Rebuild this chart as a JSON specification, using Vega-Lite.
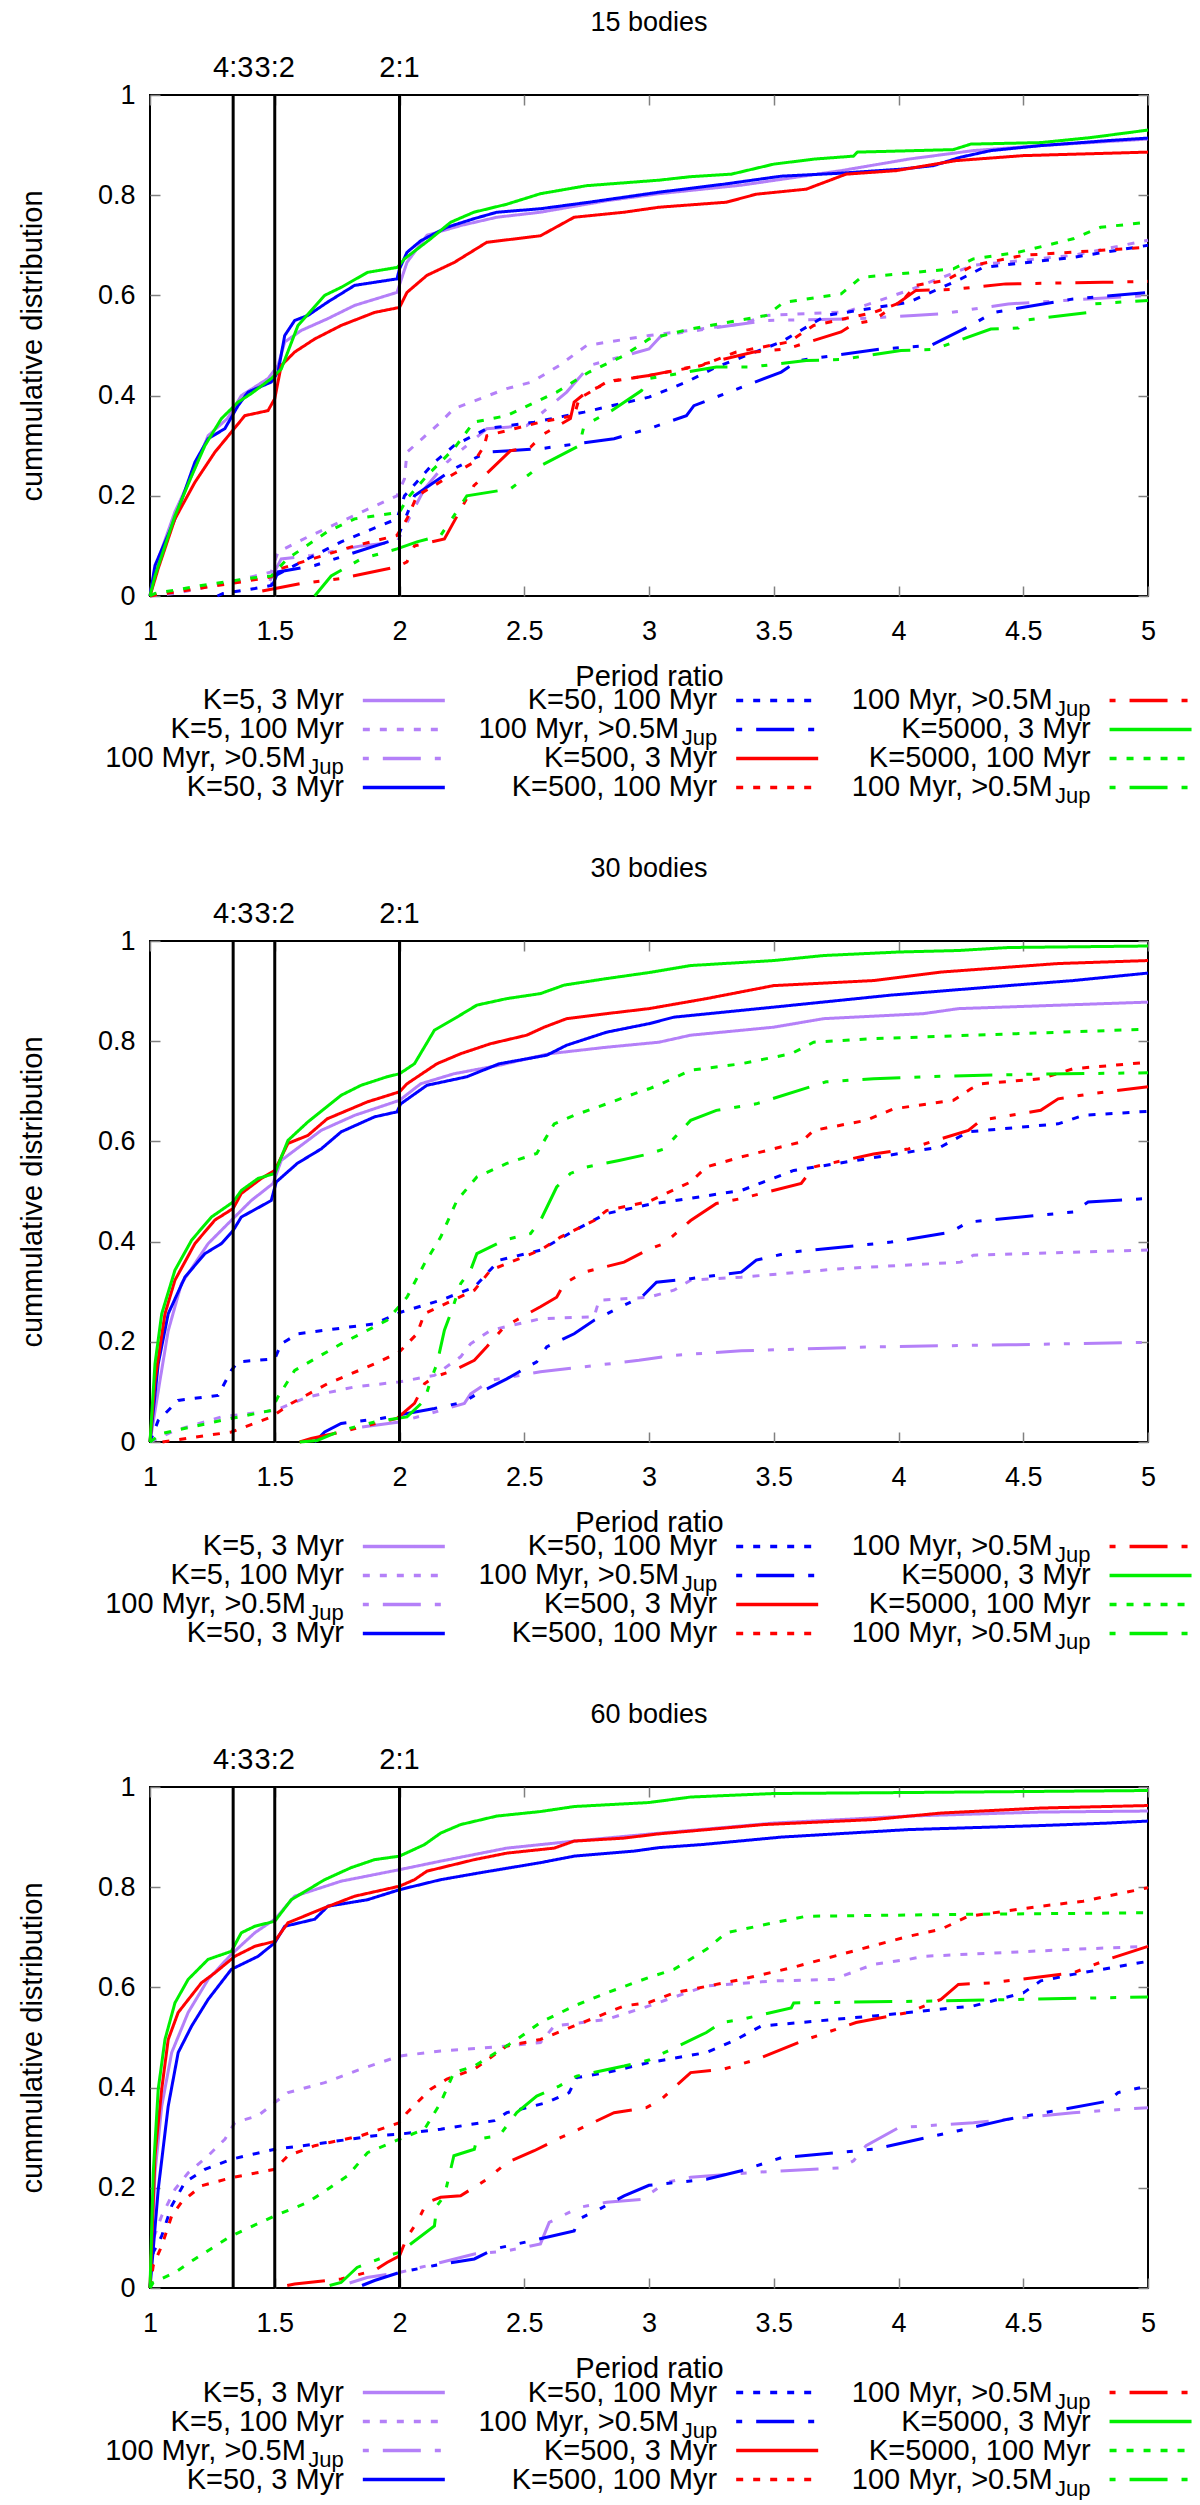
{
  "$schema": "https://vega.github.io/schema/vega-lite/v6.json",
  "padding": {"left": 17, "top": 8, "right": 5, "bottom": 0},
  "background": "white",
  "config": {
    "font": "Liberation Sans",
    "view": {"stroke": "black", "strokeWidth": 2},
    "axis": {
      "grid": false, "domain": false,
      "tickColor": "#808080", "tickWidth": 1.5, "tickSize": -10,
      "labelFont": "Liberation Sans", "labelFontSize": 27, "labelColor": "black",
      "titleFont": "Liberation Sans", "titleFontSize": 29, "titleFontWeight": "normal", "titleColor": "black"
    },
    "axisBottom": {"labelPadding": 32, "titlePadding": 18},
    "axisLeft": {"labelPadding": 25, "titlePadding": 50},
    "text": {"font": "Liberation Sans", "color": "black"}
  },
  "datasets": {
    "res": [
      {"ratio": 1.3333, "label": "4:3"},
      {"ratio": 1.5, "label": "3:2"},
      {"ratio": 2, "label": "2:1"}
    ],
    "leg": [
      {"series": "k5_3", "label": "K=5, 3 Myr", "sub": "", "col": 1, "row": 1},
      {"series": "k5_100", "label": "K=5, 100 Myr", "sub": "", "col": 1, "row": 2},
      {"series": "k5_jup", "label": "100 Myr, >0.5M", "sub": "Jup", "col": 1, "row": 3},
      {"series": "k50_3", "label": "K=50, 3 Myr", "sub": "", "col": 1, "row": 4},
      {"series": "k50_100", "label": "K=50, 100 Myr", "sub": "", "col": 2, "row": 1},
      {"series": "k50_jup", "label": "100 Myr, >0.5M", "sub": "Jup", "col": 2, "row": 2},
      {"series": "k500_3", "label": "K=500, 3 Myr", "sub": "", "col": 2, "row": 3},
      {"series": "k500_100", "label": "K=500, 100 Myr", "sub": "", "col": 2, "row": 4},
      {"series": "k500_jup", "label": "100 Myr, >0.5M", "sub": "Jup", "col": 3, "row": 1},
      {"series": "k5000_3", "label": "K=5000, 3 Myr", "sub": "", "col": 3, "row": 2},
      {"series": "k5000_100", "label": "K=5000, 100 Myr", "sub": "", "col": 3, "row": 3},
      {"series": "k5000_jup", "label": "100 Myr, >0.5M", "sub": "Jup", "col": 3, "row": 4}
    ],
    "p15": [
      {"series":"k5_3","ratio":1,"cdf":0},{"series":"k5_3","ratio":1.02,"cdf":0.055},{"series":"k5_3","ratio":1.1,"cdf":0.168},{"series":"k5_3","ratio":1.167,"cdf":0.24},{"series":"k5_3","ratio":1.233,"cdf":0.32},{"series":"k5_3","ratio":1.31,"cdf":0.354},{"series":"k5_3","ratio":1.366,"cdf":0.4},{"series":"k5_3","ratio":1.473,"cdf":0.434},{"series":"k5_3","ratio":1.513,"cdf":0.46},{"series":"k5_3","ratio":1.54,"cdf":0.507},{"series":"k5_3","ratio":1.606,"cdf":0.53},{"series":"k5_3","ratio":1.71,"cdf":0.553},{"series":"k5_3","ratio":1.82,"cdf":0.58},{"series":"k5_3","ratio":1.99,"cdf":0.606},{"series":"k5_3","ratio":2.03,"cdf":0.666},{"series":"k5_3","ratio":2.11,"cdf":0.72},{"series":"k5_3","ratio":2.25,"cdf":0.74},{"series":"k5_3","ratio":2.39,"cdf":0.756},{"series":"k5_3","ratio":2.565,"cdf":0.766},{"series":"k5_3","ratio":2.83,"cdf":0.789},{"series":"k5_3","ratio":3.04,"cdf":0.803},{"series":"k5_3","ratio":3.37,"cdf":0.82},{"series":"k5_3","ratio":3.77,"cdf":0.849},{"series":"k5_3","ratio":4.04,"cdf":0.872},{"series":"k5_3","ratio":4.3,"cdf":0.889},{"series":"k5_3","ratio":4.57,"cdf":0.899},{"series":"k5_3","ratio":5,"cdf":0.912},
      {"series":"k5_100","ratio":1,"cdf":0},{"series":"k5_100","ratio":1.1,"cdf":0.005},{"series":"k5_100","ratio":1.326,"cdf":0.028},{"series":"k5_100","ratio":1.486,"cdf":0.048},{"series":"k5_100","ratio":1.513,"cdf":0.088},{"series":"k5_100","ratio":1.633,"cdf":0.118},{"series":"k5_100","ratio":1.82,"cdf":0.161},{"series":"k5_100","ratio":1.99,"cdf":0.2},{"series":"k5_100","ratio":2.02,"cdf":0.234},{"series":"k5_100","ratio":2.03,"cdf":0.287},{"series":"k5_100","ratio":2.165,"cdf":0.347},{"series":"k5_100","ratio":2.218,"cdf":0.374},{"series":"k5_100","ratio":2.43,"cdf":0.414},{"series":"k5_100","ratio":2.53,"cdf":0.427},{"series":"k5_100","ratio":2.64,"cdf":0.46},{"series":"k5_100","ratio":2.75,"cdf":0.5},{"series":"k5_100","ratio":3,"cdf":0.52},{"series":"k5_100","ratio":3.37,"cdf":0.543},{"series":"k5_100","ratio":3.47,"cdf":0.56},{"series":"k5_100","ratio":3.79,"cdf":0.567},{"series":"k5_100","ratio":4.04,"cdf":0.61},{"series":"k5_100","ratio":4.3,"cdf":0.66},{"series":"k5_100","ratio":4.7,"cdf":0.68},{"series":"k5_100","ratio":5,"cdf":0.71},
      {"series":"k5_jup","ratio":1.48,"cdf":0.03},{"series":"k5_jup","ratio":1.526,"cdf":0.074},{"series":"k5_jup","ratio":1.646,"cdf":0.081},{"series":"k5_jup","ratio":1.846,"cdf":0.1},{"series":"k5_jup","ratio":1.99,"cdf":0.108},{"series":"k5_jup","ratio":2.1,"cdf":0.214},{"series":"k5_jup","ratio":2.19,"cdf":0.267},{"series":"k5_jup","ratio":2.35,"cdf":0.334},{"series":"k5_jup","ratio":2.51,"cdf":0.34},{"series":"k5_jup","ratio":2.67,"cdf":0.407},{"series":"k5_jup","ratio":2.74,"cdf":0.447},{"series":"k5_jup","ratio":2.76,"cdf":0.46},{"series":"k5_jup","ratio":3,"cdf":0.493},{"series":"k5_jup","ratio":3.05,"cdf":0.52},{"series":"k5_jup","ratio":3.47,"cdf":0.55},{"series":"k5_jup","ratio":3.82,"cdf":0.553},{"series":"k5_jup","ratio":4.06,"cdf":0.56},{"series":"k5_jup","ratio":4.17,"cdf":0.563},{"series":"k5_jup","ratio":4.44,"cdf":0.583},{"series":"k5_jup","ratio":5,"cdf":0.6},
      {"series":"k50_3","ratio":1,"cdf":0},{"series":"k50_3","ratio":1.02,"cdf":0.061},{"series":"k50_3","ratio":1.1,"cdf":0.154},{"series":"k50_3","ratio":1.18,"cdf":0.267},{"series":"k50_3","ratio":1.233,"cdf":0.314},{"series":"k50_3","ratio":1.3,"cdf":0.334},{"series":"k50_3","ratio":1.353,"cdf":0.38},{"series":"k50_3","ratio":1.393,"cdf":0.407},{"series":"k50_3","ratio":1.486,"cdf":0.427},{"series":"k50_3","ratio":1.513,"cdf":0.447},{"series":"k50_3","ratio":1.54,"cdf":0.52},{"series":"k50_3","ratio":1.58,"cdf":0.55},{"series":"k50_3","ratio":1.633,"cdf":0.56},{"series":"k50_3","ratio":1.71,"cdf":0.586},{"series":"k50_3","ratio":1.82,"cdf":0.62},{"series":"k50_3","ratio":1.99,"cdf":0.633},{"series":"k50_3","ratio":2,"cdf":0.653},{"series":"k50_3","ratio":2.03,"cdf":0.686},{"series":"k50_3","ratio":2.085,"cdf":0.709},{"series":"k50_3","ratio":2.19,"cdf":0.736},{"series":"k50_3","ratio":2.298,"cdf":0.753},{"series":"k50_3","ratio":2.39,"cdf":0.766},{"series":"k50_3","ratio":2.565,"cdf":0.773},{"series":"k50_3","ratio":2.76,"cdf":0.786},{"series":"k50_3","ratio":3.04,"cdf":0.806},{"series":"k50_3","ratio":3.3,"cdf":0.822},{"series":"k50_3","ratio":3.53,"cdf":0.838},{"series":"k50_3","ratio":3.77,"cdf":0.844},{"series":"k50_3","ratio":4.01,"cdf":0.852},{"series":"k50_3","ratio":4.14,"cdf":0.859},{"series":"k50_3","ratio":4.25,"cdf":0.876},{"series":"k50_3","ratio":4.37,"cdf":0.889},{"series":"k50_3","ratio":4.57,"cdf":0.899},{"series":"k50_3","ratio":4.84,"cdf":0.909},{"series":"k50_3","ratio":5,"cdf":0.914},
      {"series":"k50_100","ratio":1.27,"cdf":0},{"series":"k50_100","ratio":1.293,"cdf":0.005},{"series":"k50_100","ratio":1.42,"cdf":0.015},{"series":"k50_100","ratio":1.486,"cdf":0.021},{"series":"k50_100","ratio":1.5,"cdf":0.04},{"series":"k50_100","ratio":1.58,"cdf":0.061},{"series":"k50_100","ratio":1.766,"cdf":0.108},{"series":"k50_100","ratio":1.99,"cdf":0.154},{"series":"k50_100","ratio":2.02,"cdf":0.2},{"series":"k50_100","ratio":2.14,"cdf":0.267},{"series":"k50_100","ratio":2.218,"cdf":0.3},{"series":"k50_100","ratio":2.35,"cdf":0.334},{"series":"k50_100","ratio":2.54,"cdf":0.347},{"series":"k50_100","ratio":2.74,"cdf":0.367},{"series":"k50_100","ratio":3,"cdf":0.397},{"series":"k50_100","ratio":3.15,"cdf":0.427},{"series":"k50_100","ratio":3.27,"cdf":0.457},{"series":"k50_100","ratio":3.53,"cdf":0.507},{"series":"k50_100","ratio":3.71,"cdf":0.56},{"series":"k50_100","ratio":4.04,"cdf":0.586},{"series":"k50_100","ratio":4.25,"cdf":0.633},{"series":"k50_100","ratio":4.34,"cdf":0.656},{"series":"k50_100","ratio":4.7,"cdf":0.676},{"series":"k50_100","ratio":5,"cdf":0.7},
      {"series":"k50_jup","ratio":1.49,"cdf":0.02},{"series":"k50_jup","ratio":1.513,"cdf":0.048},{"series":"k50_jup","ratio":1.66,"cdf":0.061},{"series":"k50_jup","ratio":1.99,"cdf":0.114},{"series":"k50_jup","ratio":2.06,"cdf":0.2},{"series":"k50_jup","ratio":2.218,"cdf":0.254},{"series":"k50_jup","ratio":2.35,"cdf":0.287},{"series":"k50_jup","ratio":2.565,"cdf":0.294},{"series":"k50_jup","ratio":2.86,"cdf":0.314},{"series":"k50_jup","ratio":3,"cdf":0.334},{"series":"k50_jup","ratio":3.15,"cdf":0.36},{"series":"k50_jup","ratio":3.18,"cdf":0.38},{"series":"k50_jup","ratio":3.41,"cdf":0.424},{"series":"k50_jup","ratio":3.53,"cdf":0.447},{"series":"k50_jup","ratio":3.6,"cdf":0.47},{"series":"k50_jup","ratio":3.93,"cdf":0.493},{"series":"k50_jup","ratio":4.13,"cdf":0.5},{"series":"k50_jup","ratio":4.29,"cdf":0.54},{"series":"k50_jup","ratio":4.38,"cdf":0.566},{"series":"k50_jup","ratio":4.7,"cdf":0.593},{"series":"k50_jup","ratio":5,"cdf":0.606},
      {"series":"k500_3","ratio":1,"cdf":0},{"series":"k500_3","ratio":1.033,"cdf":0.055},{"series":"k500_3","ratio":1.1,"cdf":0.154},{"series":"k500_3","ratio":1.18,"cdf":0.227},{"series":"k500_3","ratio":1.26,"cdf":0.287},{"series":"k500_3","ratio":1.326,"cdf":0.327},{"series":"k500_3","ratio":1.38,"cdf":0.36},{"series":"k500_3","ratio":1.473,"cdf":0.37},{"series":"k500_3","ratio":1.5,"cdf":0.394},{"series":"k500_3","ratio":1.526,"cdf":0.46},{"series":"k500_3","ratio":1.58,"cdf":0.487},{"series":"k500_3","ratio":1.66,"cdf":0.513},{"series":"k500_3","ratio":1.766,"cdf":0.54},{"series":"k500_3","ratio":1.9,"cdf":0.566},{"series":"k500_3","ratio":2,"cdf":0.576},{"series":"k500_3","ratio":2.03,"cdf":0.606},{"series":"k500_3","ratio":2.11,"cdf":0.64},{"series":"k500_3","ratio":2.22,"cdf":0.666},{"series":"k500_3","ratio":2.35,"cdf":0.706},{"series":"k500_3","ratio":2.565,"cdf":0.719},{"series":"k500_3","ratio":2.7,"cdf":0.756},{"series":"k500_3","ratio":2.9,"cdf":0.766},{"series":"k500_3","ratio":3.04,"cdf":0.776},{"series":"k500_3","ratio":3.31,"cdf":0.786},{"series":"k500_3","ratio":3.43,"cdf":0.802},{"series":"k500_3","ratio":3.63,"cdf":0.812},{"series":"k500_3","ratio":3.79,"cdf":0.842},{"series":"k500_3","ratio":3.99,"cdf":0.849},{"series":"k500_3","ratio":4.23,"cdf":0.869},{"series":"k500_3","ratio":4.5,"cdf":0.879},{"series":"k500_3","ratio":5,"cdf":0.886},
      {"series":"k500_100","ratio":1,"cdf":0},{"series":"k500_100","ratio":1.1,"cdf":0.008},{"series":"k500_100","ratio":1.326,"cdf":0.025},{"series":"k500_100","ratio":1.486,"cdf":0.038},{"series":"k500_100","ratio":1.526,"cdf":0.055},{"series":"k500_100","ratio":1.82,"cdf":0.1},{"series":"k500_100","ratio":1.99,"cdf":0.121},{"series":"k500_100","ratio":2.03,"cdf":0.154},{"series":"k500_100","ratio":2.07,"cdf":0.2},{"series":"k500_100","ratio":2.205,"cdf":0.24},{"series":"k500_100","ratio":2.298,"cdf":0.267},{"series":"k500_100","ratio":2.34,"cdf":0.3},{"series":"k500_100","ratio":2.35,"cdf":0.32},{"series":"k500_100","ratio":2.565,"cdf":0.347},{"series":"k500_100","ratio":2.7,"cdf":0.36},{"series":"k500_100","ratio":2.72,"cdf":0.394},{"series":"k500_100","ratio":2.83,"cdf":0.427},{"series":"k500_100","ratio":3,"cdf":0.44},{"series":"k500_100","ratio":3.21,"cdf":0.46},{"series":"k500_100","ratio":3.35,"cdf":0.487},{"series":"k500_100","ratio":3.56,"cdf":0.507},{"series":"k500_100","ratio":3.66,"cdf":0.54},{"series":"k500_100","ratio":3.9,"cdf":0.566},{"series":"k500_100","ratio":4.01,"cdf":0.586},{"series":"k500_100","ratio":4.07,"cdf":0.62},{"series":"k500_100","ratio":4.19,"cdf":0.63},{"series":"k500_100","ratio":4.3,"cdf":0.66},{"series":"k500_100","ratio":4.5,"cdf":0.68},{"series":"k500_100","ratio":5,"cdf":0.696},
      {"series":"k500_jup","ratio":1.45,"cdf":0.01},{"series":"k500_jup","ratio":1.606,"cdf":0.025},{"series":"k500_jup","ratio":1.766,"cdf":0.035},{"series":"k500_jup","ratio":1.99,"cdf":0.058},{"series":"k500_jup","ratio":2.03,"cdf":0.068},{"series":"k500_jup","ratio":2.06,"cdf":0.1},{"series":"k500_jup","ratio":2.18,"cdf":0.114},{"series":"k500_jup","ratio":2.298,"cdf":0.22},{"series":"k500_jup","ratio":2.445,"cdf":0.29},{"series":"k500_jup","ratio":2.525,"cdf":0.297},{"series":"k500_jup","ratio":2.58,"cdf":0.324},{"series":"k500_jup","ratio":2.685,"cdf":0.354},{"series":"k500_jup","ratio":2.7,"cdf":0.387},{"series":"k500_jup","ratio":2.75,"cdf":0.407},{"series":"k500_jup","ratio":2.86,"cdf":0.43},{"series":"k500_jup","ratio":3,"cdf":0.44},{"series":"k500_jup","ratio":3.167,"cdf":0.457},{"series":"k500_jup","ratio":3.42,"cdf":0.487},{"series":"k500_jup","ratio":3.55,"cdf":0.493},{"series":"k500_jup","ratio":3.77,"cdf":0.527},{"series":"k500_jup","ratio":3.82,"cdf":0.543},{"series":"k500_jup","ratio":3.9,"cdf":0.55},{"series":"k500_jup","ratio":4.07,"cdf":0.61},{"series":"k500_jup","ratio":4.22,"cdf":0.612},{"series":"k500_jup","ratio":4.43,"cdf":0.623},{"series":"k500_jup","ratio":4.82,"cdf":0.626},{"series":"k500_jup","ratio":5,"cdf":0.628},
      {"series":"k5000_3","ratio":1,"cdf":0},{"series":"k5000_3","ratio":1.02,"cdf":0.04},{"series":"k5000_3","ratio":1.1,"cdf":0.16},{"series":"k5000_3","ratio":1.167,"cdf":0.24},{"series":"k5000_3","ratio":1.22,"cdf":0.3},{"series":"k5000_3","ratio":1.286,"cdf":0.354},{"series":"k5000_3","ratio":1.353,"cdf":0.387},{"series":"k5000_3","ratio":1.406,"cdf":0.404},{"series":"k5000_3","ratio":1.486,"cdf":0.434},{"series":"k5000_3","ratio":1.526,"cdf":0.453},{"series":"k5000_3","ratio":1.593,"cdf":0.54},{"series":"k5000_3","ratio":1.7,"cdf":0.6},{"series":"k5000_3","ratio":1.766,"cdf":0.616},{"series":"k5000_3","ratio":1.872,"cdf":0.646},{"series":"k5000_3","ratio":1.992,"cdf":0.656},{"series":"k5000_3","ratio":2.02,"cdf":0.673},{"series":"k5000_3","ratio":2.125,"cdf":0.713},{"series":"k5000_3","ratio":2.205,"cdf":0.746},{"series":"k5000_3","ratio":2.298,"cdf":0.766},{"series":"k5000_3","ratio":2.43,"cdf":0.782},{"series":"k5000_3","ratio":2.565,"cdf":0.803},{"series":"k5000_3","ratio":2.75,"cdf":0.819},{"series":"k5000_3","ratio":3.04,"cdf":0.83},{"series":"k5000_3","ratio":3.167,"cdf":0.837},{"series":"k5000_3","ratio":3.33,"cdf":0.842},{"series":"k5000_3","ratio":3.5,"cdf":0.862},{"series":"k5000_3","ratio":3.66,"cdf":0.872},{"series":"k5000_3","ratio":3.82,"cdf":0.878},{"series":"k5000_3","ratio":3.835,"cdf":0.886},{"series":"k5000_3","ratio":4.22,"cdf":0.891},{"series":"k5000_3","ratio":4.29,"cdf":0.902},{"series":"k5000_3","ratio":4.57,"cdf":0.905},{"series":"k5000_3","ratio":4.77,"cdf":0.915},{"series":"k5000_3","ratio":5,"cdf":0.93},
      {"series":"k5000_100","ratio":1,"cdf":0},{"series":"k5000_100","ratio":1.02,"cdf":0.005},{"series":"k5000_100","ratio":1.206,"cdf":0.021},{"series":"k5000_100","ratio":1.393,"cdf":0.035},{"series":"k5000_100","ratio":1.486,"cdf":0.04},{"series":"k5000_100","ratio":1.55,"cdf":0.074},{"series":"k5000_100","ratio":1.71,"cdf":0.128},{"series":"k5000_100","ratio":1.82,"cdf":0.154},{"series":"k5000_100","ratio":2,"cdf":0.167},{"series":"k5000_100","ratio":2.03,"cdf":0.194},{"series":"k5000_100","ratio":2.11,"cdf":0.24},{"series":"k5000_100","ratio":2.218,"cdf":0.294},{"series":"k5000_100","ratio":2.298,"cdf":0.347},{"series":"k5000_100","ratio":2.43,"cdf":0.36},{"series":"k5000_100","ratio":2.63,"cdf":0.407},{"series":"k5000_100","ratio":2.76,"cdf":0.447},{"series":"k5000_100","ratio":2.9,"cdf":0.48},{"series":"k5000_100","ratio":3,"cdf":0.513},{"series":"k5000_100","ratio":3.167,"cdf":0.533},{"series":"k5000_100","ratio":3.47,"cdf":0.56},{"series":"k5000_100","ratio":3.54,"cdf":0.586},{"series":"k5000_100","ratio":3.77,"cdf":0.603},{"series":"k5000_100","ratio":3.85,"cdf":0.636},{"series":"k5000_100","ratio":4.22,"cdf":0.653},{"series":"k5000_100","ratio":4.3,"cdf":0.673},{"series":"k5000_100","ratio":4.48,"cdf":0.686},{"series":"k5000_100","ratio":4.7,"cdf":0.713},{"series":"k5000_100","ratio":4.81,"cdf":0.736},{"series":"k5000_100","ratio":5,"cdf":0.746},
      {"series":"k5000_jup","ratio":1.66,"cdf":0},{"series":"k5000_jup","ratio":1.726,"cdf":0.04},{"series":"k5000_jup","ratio":1.846,"cdf":0.074},{"series":"k5000_jup","ratio":1.99,"cdf":0.094},{"series":"k5000_jup","ratio":2.07,"cdf":0.108},{"series":"k5000_jup","ratio":2.165,"cdf":0.121},{"series":"k5000_jup","ratio":2.218,"cdf":0.16},{"series":"k5000_jup","ratio":2.27,"cdf":0.2},{"series":"k5000_jup","ratio":2.445,"cdf":0.214},{"series":"k5000_jup","ratio":2.565,"cdf":0.26},{"series":"k5000_jup","ratio":2.72,"cdf":0.3},{"series":"k5000_jup","ratio":2.74,"cdf":0.34},{"series":"k5000_jup","ratio":2.85,"cdf":0.37},{"series":"k5000_jup","ratio":2.97,"cdf":0.41},{"series":"k5000_jup","ratio":3,"cdf":0.434},{"series":"k5000_jup","ratio":3.27,"cdf":0.457},{"series":"k5000_jup","ratio":3.41,"cdf":0.457},{"series":"k5000_jup","ratio":3.63,"cdf":0.47},{"series":"k5000_jup","ratio":3.77,"cdf":0.472},{"series":"k5000_jup","ratio":4.01,"cdf":0.49},{"series":"k5000_jup","ratio":4.14,"cdf":0.492},{"series":"k5000_jup","ratio":4.37,"cdf":0.533},{"series":"k5000_jup","ratio":4.48,"cdf":0.535},{"series":"k5000_jup","ratio":4.5,"cdf":0.55},{"series":"k5000_jup","ratio":4.76,"cdf":0.566},{"series":"k5000_jup","ratio":4.78,"cdf":0.583},{"series":"k5000_jup","ratio":5,"cdf":0.59}
    ],
    "p30": [
      {"series":"k5_3","ratio":1,"cdf":0},{"series":"k5_3","ratio":1.04,"cdf":0.123},{"series":"k5_3","ratio":1.073,"cdf":0.222},{"series":"k5_3","ratio":1.126,"cdf":0.316},{"series":"k5_3","ratio":1.233,"cdf":0.396},{"series":"k5_3","ratio":1.333,"cdf":0.446},{"series":"k5_3","ratio":1.406,"cdf":0.482},{"series":"k5_3","ratio":1.493,"cdf":0.516},{"series":"k5_3","ratio":1.526,"cdf":0.562},{"series":"k5_3","ratio":1.686,"cdf":0.622},{"series":"k5_3","ratio":1.82,"cdf":0.652},{"series":"k5_3","ratio":2,"cdf":0.682},{"series":"k5_3","ratio":2.085,"cdf":0.715},{"series":"k5_3","ratio":2.218,"cdf":0.735},{"series":"k5_3","ratio":2.4,"cdf":0.752},{"series":"k5_3","ratio":2.6,"cdf":0.775},{"series":"k5_3","ratio":2.83,"cdf":0.788},{"series":"k5_3","ratio":3.04,"cdf":0.798},{"series":"k5_3","ratio":3.167,"cdf":0.812},{"series":"k5_3","ratio":3.5,"cdf":0.828},{"series":"k5_3","ratio":3.7,"cdf":0.845},{"series":"k5_3","ratio":4.1,"cdf":0.855},{"series":"k5_3","ratio":4.24,"cdf":0.865},{"series":"k5_3","ratio":5,"cdf":0.878},
      {"series":"k5_100","ratio":1,"cdf":0},{"series":"k5_100","ratio":1.1,"cdf":0.023},{"series":"k5_100","ratio":1.286,"cdf":0.05},{"series":"k5_100","ratio":1.5,"cdf":0.063},{"series":"k5_100","ratio":1.633,"cdf":0.09},{"series":"k5_100","ratio":1.82,"cdf":0.11},{"series":"k5_100","ratio":2,"cdf":0.12},{"series":"k5_100","ratio":2.14,"cdf":0.133},{"series":"k5_100","ratio":2.245,"cdf":0.17},{"series":"k5_100","ratio":2.285,"cdf":0.196},{"series":"k5_100","ratio":2.365,"cdf":0.223},{"series":"k5_100","ratio":2.565,"cdf":0.246},{"series":"k5_100","ratio":2.78,"cdf":0.25},{"series":"k5_100","ratio":2.8,"cdf":0.283},{"series":"k5_100","ratio":3,"cdf":0.289},{"series":"k5_100","ratio":3.1,"cdf":0.303},{"series":"k5_100","ratio":3.167,"cdf":0.323},{"series":"k5_100","ratio":3.37,"cdf":0.329},{"series":"k5_100","ratio":3.77,"cdf":0.346},{"series":"k5_100","ratio":4.25,"cdf":0.359},{"series":"k5_100","ratio":4.3,"cdf":0.373},{"series":"k5_100","ratio":5,"cdf":0.383},
      {"series":"k5_jup","ratio":1.85,"cdf":0.03},{"series":"k5_jup","ratio":2,"cdf":0.04},{"series":"k5_jup","ratio":2.165,"cdf":0.063},{"series":"k5_jup","ratio":2.26,"cdf":0.077},{"series":"k5_jup","ratio":2.285,"cdf":0.096},{"series":"k5_jup","ratio":2.365,"cdf":0.123},{"series":"k5_jup","ratio":2.565,"cdf":0.14},{"series":"k5_jup","ratio":2.96,"cdf":0.163},{"series":"k5_jup","ratio":3.1,"cdf":0.173},{"series":"k5_jup","ratio":3.37,"cdf":0.182},{"series":"k5_jup","ratio":3.9,"cdf":0.19},{"series":"k5_jup","ratio":4.44,"cdf":0.194},{"series":"k5_jup","ratio":5,"cdf":0.199},
      {"series":"k50_3","ratio":1,"cdf":0},{"series":"k50_3","ratio":1.033,"cdf":0.156},{"series":"k50_3","ratio":1.073,"cdf":0.256},{"series":"k50_3","ratio":1.14,"cdf":0.329},{"series":"k50_3","ratio":1.22,"cdf":0.376},{"series":"k50_3","ratio":1.286,"cdf":0.396},{"series":"k50_3","ratio":1.333,"cdf":0.422},{"series":"k50_3","ratio":1.366,"cdf":0.449},{"series":"k50_3","ratio":1.486,"cdf":0.482},{"series":"k50_3","ratio":1.506,"cdf":0.519},{"series":"k50_3","ratio":1.59,"cdf":0.556},{"series":"k50_3","ratio":1.686,"cdf":0.585},{"series":"k50_3","ratio":1.766,"cdf":0.619},{"series":"k50_3","ratio":1.9,"cdf":0.649},{"series":"k50_3","ratio":1.99,"cdf":0.659},{"series":"k50_3","ratio":2.005,"cdf":0.675},{"series":"k50_3","ratio":2.11,"cdf":0.712},{"series":"k50_3","ratio":2.27,"cdf":0.729},{"series":"k50_3","ratio":2.4,"cdf":0.755},{"series":"k50_3","ratio":2.59,"cdf":0.772},{"series":"k50_3","ratio":2.67,"cdf":0.792},{"series":"k50_3","ratio":2.83,"cdf":0.818},{"series":"k50_3","ratio":3,"cdf":0.835},{"series":"k50_3","ratio":3.1,"cdf":0.848},{"series":"k50_3","ratio":3.5,"cdf":0.868},{"series":"k50_3","ratio":3.97,"cdf":0.892},{"series":"k50_3","ratio":4.44,"cdf":0.911},{"series":"k50_3","ratio":4.7,"cdf":0.921},{"series":"k50_3","ratio":5,"cdf":0.936},
      {"series":"k50_100","ratio":1,"cdf":0},{"series":"k50_100","ratio":1.033,"cdf":0.043},{"series":"k50_100","ratio":1.113,"cdf":0.083},{"series":"k50_100","ratio":1.273,"cdf":0.093},{"series":"k50_100","ratio":1.326,"cdf":0.143},{"series":"k50_100","ratio":1.353,"cdf":0.16},{"series":"k50_100","ratio":1.5,"cdf":0.166},{"series":"k50_100","ratio":1.526,"cdf":0.196},{"series":"k50_100","ratio":1.593,"cdf":0.216},{"series":"k50_100","ratio":1.9,"cdf":0.236},{"series":"k50_100","ratio":1.965,"cdf":0.25},{"series":"k50_100","ratio":2.005,"cdf":0.259},{"series":"k50_100","ratio":2.165,"cdf":0.283},{"series":"k50_100","ratio":2.3,"cdf":0.309},{"series":"k50_100","ratio":2.4,"cdf":0.363},{"series":"k50_100","ratio":2.565,"cdf":0.383},{"series":"k50_100","ratio":2.7,"cdf":0.422},{"series":"k50_100","ratio":2.83,"cdf":0.456},{"series":"k50_100","ratio":3,"cdf":0.474},{"series":"k50_100","ratio":3.37,"cdf":0.502},{"series":"k50_100","ratio":3.58,"cdf":0.542},{"series":"k50_100","ratio":3.83,"cdf":0.562},{"series":"k50_100","ratio":4.17,"cdf":0.589},{"series":"k50_100","ratio":4.28,"cdf":0.619},{"series":"k50_100","ratio":4.64,"cdf":0.635},{"series":"k50_100","ratio":4.74,"cdf":0.652},{"series":"k50_100","ratio":5,"cdf":0.66},
      {"series":"k50_jup","ratio":1.66,"cdf":0},{"series":"k50_jup","ratio":1.7,"cdf":0.02},{"series":"k50_jup","ratio":1.766,"cdf":0.037},{"series":"k50_jup","ratio":1.925,"cdf":0.047},{"series":"k50_jup","ratio":2.03,"cdf":0.057},{"series":"k50_jup","ratio":2.14,"cdf":0.067},{"series":"k50_jup","ratio":2.26,"cdf":0.08},{"series":"k50_jup","ratio":2.31,"cdf":0.096},{"series":"k50_jup","ratio":2.43,"cdf":0.126},{"series":"k50_jup","ratio":2.55,"cdf":0.16},{"series":"k50_jup","ratio":2.59,"cdf":0.19},{"series":"k50_jup","ratio":2.7,"cdf":0.216},{"series":"k50_jup","ratio":2.78,"cdf":0.243},{"series":"k50_jup","ratio":2.9,"cdf":0.273},{"series":"k50_jup","ratio":2.97,"cdf":0.289},{"series":"k50_jup","ratio":3.03,"cdf":0.319},{"series":"k50_jup","ratio":3.167,"cdf":0.326},{"series":"k50_jup","ratio":3.37,"cdf":0.339},{"series":"k50_jup","ratio":3.43,"cdf":0.363},{"series":"k50_jup","ratio":3.57,"cdf":0.379},{"series":"k50_jup","ratio":3.97,"cdf":0.399},{"series":"k50_jup","ratio":4.21,"cdf":0.419},{"series":"k50_jup","ratio":4.28,"cdf":0.439},{"series":"k50_jup","ratio":4.7,"cdf":0.459},{"series":"k50_jup","ratio":4.76,"cdf":0.479},{"series":"k50_jup","ratio":5,"cdf":0.486},
      {"series":"k500_3","ratio":1,"cdf":0},{"series":"k500_3","ratio":1.02,"cdf":0.123},{"series":"k500_3","ratio":1.06,"cdf":0.256},{"series":"k500_3","ratio":1.1,"cdf":0.323},{"series":"k500_3","ratio":1.18,"cdf":0.396},{"series":"k500_3","ratio":1.26,"cdf":0.443},{"series":"k500_3","ratio":1.333,"cdf":0.466},{"series":"k500_3","ratio":1.366,"cdf":0.496},{"series":"k500_3","ratio":1.446,"cdf":0.526},{"series":"k500_3","ratio":1.5,"cdf":0.542},{"series":"k500_3","ratio":1.553,"cdf":0.596},{"series":"k500_3","ratio":1.633,"cdf":0.612},{"series":"k500_3","ratio":1.71,"cdf":0.645},{"series":"k500_3","ratio":1.872,"cdf":0.679},{"series":"k500_3","ratio":2,"cdf":0.699},{"series":"k500_3","ratio":2.03,"cdf":0.715},{"series":"k500_3","ratio":2.15,"cdf":0.755},{"series":"k500_3","ratio":2.245,"cdf":0.775},{"series":"k500_3","ratio":2.365,"cdf":0.795},{"series":"k500_3","ratio":2.51,"cdf":0.812},{"series":"k500_3","ratio":2.58,"cdf":0.828},{"series":"k500_3","ratio":2.67,"cdf":0.845},{"series":"k500_3","ratio":2.83,"cdf":0.855},{"series":"k500_3","ratio":3,"cdf":0.865},{"series":"k500_3","ratio":3.23,"cdf":0.885},{"series":"k500_3","ratio":3.5,"cdf":0.911},{"series":"k500_3","ratio":3.9,"cdf":0.921},{"series":"k500_3","ratio":4.17,"cdf":0.938},{"series":"k500_3","ratio":4.64,"cdf":0.955},{"series":"k500_3","ratio":5,"cdf":0.961},
      {"series":"k500_100","ratio":1.05,"cdf":0},{"series":"k500_100","ratio":1.087,"cdf":0.003},{"series":"k500_100","ratio":1.326,"cdf":0.02},{"series":"k500_100","ratio":1.486,"cdf":0.05},{"series":"k500_100","ratio":1.566,"cdf":0.077},{"series":"k500_100","ratio":1.71,"cdf":0.116},{"series":"k500_100","ratio":1.9,"cdf":0.156},{"series":"k500_100","ratio":2,"cdf":0.18},{"series":"k500_100","ratio":2.07,"cdf":0.216},{"series":"k500_100","ratio":2.1,"cdf":0.256},{"series":"k500_100","ratio":2.3,"cdf":0.303},{"series":"k500_100","ratio":2.365,"cdf":0.343},{"series":"k500_100","ratio":2.565,"cdf":0.383},{"series":"k500_100","ratio":2.645,"cdf":0.409},{"series":"k500_100","ratio":2.78,"cdf":0.442},{"series":"k500_100","ratio":2.83,"cdf":0.462},{"series":"k500_100","ratio":3,"cdf":0.48},{"series":"k500_100","ratio":3.167,"cdf":0.519},{"series":"k500_100","ratio":3.23,"cdf":0.549},{"series":"k500_100","ratio":3.37,"cdf":0.569},{"series":"k500_100","ratio":3.61,"cdf":0.599},{"series":"k500_100","ratio":3.66,"cdf":0.622},{"series":"k500_100","ratio":3.87,"cdf":0.642},{"series":"k500_100","ratio":3.98,"cdf":0.665},{"series":"k500_100","ratio":4.22,"cdf":0.682},{"series":"k500_100","ratio":4.29,"cdf":0.705},{"series":"k500_100","ratio":4.33,"cdf":0.715},{"series":"k500_100","ratio":4.57,"cdf":0.725},{"series":"k500_100","ratio":4.7,"cdf":0.745},{"series":"k500_100","ratio":5,"cdf":0.758},
      {"series":"k500_jup","ratio":1.6,"cdf":0},{"series":"k500_jup","ratio":1.646,"cdf":0.007},{"series":"k500_jup","ratio":1.766,"cdf":0.02},{"series":"k500_jup","ratio":1.99,"cdf":0.047},{"series":"k500_jup","ratio":2.06,"cdf":0.077},{"series":"k500_jup","ratio":2.1,"cdf":0.116},{"series":"k500_jup","ratio":2.14,"cdf":0.13},{"series":"k500_jup","ratio":2.218,"cdf":0.143},{"series":"k500_jup","ratio":2.3,"cdf":0.163},{"series":"k500_jup","ratio":2.35,"cdf":0.19},{"series":"k500_jup","ratio":2.42,"cdf":0.23},{"series":"k500_jup","ratio":2.565,"cdf":0.27},{"series":"k500_jup","ratio":2.63,"cdf":0.289},{"series":"k500_jup","ratio":2.66,"cdf":0.316},{"series":"k500_jup","ratio":2.74,"cdf":0.339},{"series":"k500_jup","ratio":2.9,"cdf":0.359},{"series":"k500_jup","ratio":3,"cdf":0.385},{"series":"k500_jup","ratio":3.06,"cdf":0.396},{"series":"k500_jup","ratio":3.167,"cdf":0.442},{"series":"k500_jup","ratio":3.27,"cdf":0.476},{"series":"k500_jup","ratio":3.37,"cdf":0.486},{"series":"k500_jup","ratio":3.61,"cdf":0.516},{"series":"k500_jup","ratio":3.66,"cdf":0.549},{"series":"k500_jup","ratio":3.9,"cdf":0.575},{"series":"k500_jup","ratio":4.04,"cdf":0.585},{"series":"k500_jup","ratio":4.28,"cdf":0.622},{"series":"k500_jup","ratio":4.33,"cdf":0.642},{"series":"k500_jup","ratio":4.57,"cdf":0.662},{"series":"k500_jup","ratio":4.64,"cdf":0.685},{"series":"k500_jup","ratio":4.77,"cdf":0.695},{"series":"k500_jup","ratio":5,"cdf":0.709},
      {"series":"k5000_3","ratio":1,"cdf":0},{"series":"k5000_3","ratio":1.02,"cdf":0.156},{"series":"k5000_3","ratio":1.047,"cdf":0.256},{"series":"k5000_3","ratio":1.1,"cdf":0.343},{"series":"k5000_3","ratio":1.167,"cdf":0.403},{"series":"k5000_3","ratio":1.246,"cdf":0.449},{"series":"k5000_3","ratio":1.333,"cdf":0.479},{"series":"k5000_3","ratio":1.366,"cdf":0.502},{"series":"k5000_3","ratio":1.433,"cdf":0.526},{"series":"k5000_3","ratio":1.5,"cdf":0.536},{"series":"k5000_3","ratio":1.553,"cdf":0.602},{"series":"k5000_3","ratio":1.633,"cdf":0.639},{"series":"k5000_3","ratio":1.766,"cdf":0.692},{"series":"k5000_3","ratio":1.846,"cdf":0.712},{"series":"k5000_3","ratio":1.95,"cdf":0.729},{"series":"k5000_3","ratio":2,"cdf":0.735},{"series":"k5000_3","ratio":2.06,"cdf":0.755},{"series":"k5000_3","ratio":2.14,"cdf":0.822},{"series":"k5000_3","ratio":2.23,"cdf":0.848},{"series":"k5000_3","ratio":2.31,"cdf":0.872},{"series":"k5000_3","ratio":2.43,"cdf":0.885},{"series":"k5000_3","ratio":2.565,"cdf":0.895},{"series":"k5000_3","ratio":2.66,"cdf":0.912},{"series":"k5000_3","ratio":2.83,"cdf":0.925},{"series":"k5000_3","ratio":3,"cdf":0.937},{"series":"k5000_3","ratio":3.167,"cdf":0.951},{"series":"k5000_3","ratio":3.5,"cdf":0.961},{"series":"k5000_3","ratio":3.7,"cdf":0.971},{"series":"k5000_3","ratio":4,"cdf":0.978},{"series":"k5000_3","ratio":4.24,"cdf":0.981},{"series":"k5000_3","ratio":4.44,"cdf":0.987},{"series":"k5000_3","ratio":5,"cdf":0.99},
      {"series":"k5000_100","ratio":1,"cdf":0},{"series":"k5000_100","ratio":1.047,"cdf":0.017},{"series":"k5000_100","ratio":1.286,"cdf":0.043},{"series":"k5000_100","ratio":1.486,"cdf":0.063},{"series":"k5000_100","ratio":1.513,"cdf":0.09},{"series":"k5000_100","ratio":1.58,"cdf":0.143},{"series":"k5000_100","ratio":1.766,"cdf":0.196},{"series":"k5000_100","ratio":1.95,"cdf":0.243},{"series":"k5000_100","ratio":2.03,"cdf":0.289},{"series":"k5000_100","ratio":2.1,"cdf":0.356},{"series":"k5000_100","ratio":2.165,"cdf":0.409},{"series":"k5000_100","ratio":2.23,"cdf":0.482},{"series":"k5000_100","ratio":2.31,"cdf":0.529},{"series":"k5000_100","ratio":2.43,"cdf":0.556},{"series":"k5000_100","ratio":2.55,"cdf":0.576},{"series":"k5000_100","ratio":2.62,"cdf":0.635},{"series":"k5000_100","ratio":2.7,"cdf":0.652},{"series":"k5000_100","ratio":2.83,"cdf":0.675},{"series":"k5000_100","ratio":2.94,"cdf":0.695},{"series":"k5000_100","ratio":3,"cdf":0.705},{"series":"k5000_100","ratio":3.05,"cdf":0.715},{"series":"k5000_100","ratio":3.167,"cdf":0.742},{"series":"k5000_100","ratio":3.37,"cdf":0.755},{"series":"k5000_100","ratio":3.57,"cdf":0.775},{"series":"k5000_100","ratio":3.66,"cdf":0.798},{"series":"k5000_100","ratio":3.9,"cdf":0.805},{"series":"k5000_100","ratio":4.3,"cdf":0.812},{"series":"k5000_100","ratio":5,"cdf":0.824},
      {"series":"k5000_jup","ratio":1.6,"cdf":0},{"series":"k5000_jup","ratio":1.67,"cdf":0.003},{"series":"k5000_jup","ratio":1.766,"cdf":0.023},{"series":"k5000_jup","ratio":1.9,"cdf":0.04},{"series":"k5000_jup","ratio":2.03,"cdf":0.05},{"series":"k5000_jup","ratio":2.1,"cdf":0.083},{"series":"k5000_jup","ratio":2.125,"cdf":0.123},{"series":"k5000_jup","ratio":2.15,"cdf":0.156},{"series":"k5000_jup","ratio":2.18,"cdf":0.223},{"series":"k5000_jup","ratio":2.21,"cdf":0.263},{"series":"k5000_jup","ratio":2.245,"cdf":0.316},{"series":"k5000_jup","ratio":2.285,"cdf":0.343},{"series":"k5000_jup","ratio":2.31,"cdf":0.376},{"series":"k5000_jup","ratio":2.42,"cdf":0.403},{"series":"k5000_jup","ratio":2.525,"cdf":0.416},{"series":"k5000_jup","ratio":2.565,"cdf":0.442},{"series":"k5000_jup","ratio":2.63,"cdf":0.509},{"series":"k5000_jup","ratio":2.685,"cdf":0.536},{"series":"k5000_jup","ratio":2.75,"cdf":0.549},{"series":"k5000_jup","ratio":2.88,"cdf":0.562},{"series":"k5000_jup","ratio":3,"cdf":0.575},{"series":"k5000_jup","ratio":3.06,"cdf":0.585},{"series":"k5000_jup","ratio":3.167,"cdf":0.642},{"series":"k5000_jup","ratio":3.27,"cdf":0.662},{"series":"k5000_jup","ratio":3.43,"cdf":0.675},{"series":"k5000_jup","ratio":3.71,"cdf":0.719},{"series":"k5000_jup","ratio":3.9,"cdf":0.725},{"series":"k5000_jup","ratio":4.17,"cdf":0.73},{"series":"k5000_jup","ratio":4.52,"cdf":0.734},{"series":"k5000_jup","ratio":5,"cdf":0.737}
    ],
    "p60": [
      {"series":"k5_3","ratio":1,"cdf":0},{"series":"k5_3","ratio":1.02,"cdf":0.23},{"series":"k5_3","ratio":1.047,"cdf":0.363},{"series":"k5_3","ratio":1.087,"cdf":0.47},{"series":"k5_3","ratio":1.153,"cdf":0.55},{"series":"k5_3","ratio":1.233,"cdf":0.616},{"series":"k5_3","ratio":1.326,"cdf":0.666},{"series":"k5_3","ratio":1.42,"cdf":0.709},{"series":"k5_3","ratio":1.5,"cdf":0.736},{"series":"k5_3","ratio":1.58,"cdf":0.782},{"series":"k5_3","ratio":1.766,"cdf":0.812},{"series":"k5_3","ratio":2,"cdf":0.835},{"series":"k5_3","ratio":2.165,"cdf":0.852},{"series":"k5_3","ratio":2.43,"cdf":0.878},{"series":"k5_3","ratio":2.7,"cdf":0.892},{"series":"k5_3","ratio":3,"cdf":0.906},{"series":"k5_3","ratio":3.5,"cdf":0.928},{"series":"k5_3","ratio":4.04,"cdf":0.942},{"series":"k5_3","ratio":4.57,"cdf":0.95},{"series":"k5_3","ratio":5,"cdf":0.952},
      {"series":"k5_100","ratio":1,"cdf":0},{"series":"k5_100","ratio":1.013,"cdf":0.098},{"series":"k5_100","ratio":1.047,"cdf":0.144},{"series":"k5_100","ratio":1.1,"cdf":0.197},{"series":"k5_100","ratio":1.153,"cdf":0.23},{"series":"k5_100","ratio":1.233,"cdf":0.264},{"series":"k5_100","ratio":1.3,"cdf":0.297},{"series":"k5_100","ratio":1.34,"cdf":0.33},{"series":"k5_100","ratio":1.433,"cdf":0.344},{"series":"k5_100","ratio":1.5,"cdf":0.37},{"series":"k5_100","ratio":1.553,"cdf":0.39},{"series":"k5_100","ratio":1.7,"cdf":0.41},{"series":"k5_100","ratio":1.846,"cdf":0.437},{"series":"k5_100","ratio":2,"cdf":0.463},{"series":"k5_100","ratio":2.165,"cdf":0.473},{"series":"k5_100","ratio":2.43,"cdf":0.483},{"series":"k5_100","ratio":2.565,"cdf":0.49},{"series":"k5_100","ratio":2.62,"cdf":0.523},{"series":"k5_100","ratio":2.83,"cdf":0.536},{"series":"k5_100","ratio":3,"cdf":0.563},{"series":"k5_100","ratio":3.23,"cdf":0.603},{"series":"k5_100","ratio":3.5,"cdf":0.613},{"series":"k5_100","ratio":3.74,"cdf":0.616},{"series":"k5_100","ratio":3.9,"cdf":0.646},{"series":"k5_100","ratio":4.04,"cdf":0.656},{"series":"k5_100","ratio":4.1,"cdf":0.662},{"series":"k5_100","ratio":4.7,"cdf":0.676},{"series":"k5_100","ratio":5,"cdf":0.682},
      {"series":"k5_jup","ratio":1.8,"cdf":0.01},{"series":"k5_jup","ratio":1.87,"cdf":0.021},{"series":"k5_jup","ratio":2,"cdf":0.031},{"series":"k5_jup","ratio":2.165,"cdf":0.051},{"series":"k5_jup","ratio":2.3,"cdf":0.068},{"series":"k5_jup","ratio":2.43,"cdf":0.074},{"series":"k5_jup","ratio":2.565,"cdf":0.088},{"series":"k5_jup","ratio":2.6,"cdf":0.131},{"series":"k5_jup","ratio":2.72,"cdf":0.161},{"series":"k5_jup","ratio":2.83,"cdf":0.171},{"series":"k5_jup","ratio":2.97,"cdf":0.177},{"series":"k5_jup","ratio":3.07,"cdf":0.211},{"series":"k5_jup","ratio":3.167,"cdf":0.221},{"series":"k5_jup","ratio":3.43,"cdf":0.231},{"series":"k5_jup","ratio":3.77,"cdf":0.24},{"series":"k5_jup","ratio":3.82,"cdf":0.254},{"series":"k5_jup","ratio":3.87,"cdf":0.284},{"series":"k5_jup","ratio":4,"cdf":0.32},{"series":"k5_jup","ratio":4.3,"cdf":0.33},{"series":"k5_jup","ratio":4.44,"cdf":0.337},{"series":"k5_jup","ratio":4.7,"cdf":0.35},{"series":"k5_jup","ratio":5,"cdf":0.36},
      {"series":"k50_3","ratio":1,"cdf":0},{"series":"k50_3","ratio":1.033,"cdf":0.197},{"series":"k50_3","ratio":1.073,"cdf":0.363},{"series":"k50_3","ratio":1.113,"cdf":0.47},{"series":"k50_3","ratio":1.167,"cdf":0.523},{"series":"k50_3","ratio":1.233,"cdf":0.576},{"series":"k50_3","ratio":1.326,"cdf":0.636},{"series":"k50_3","ratio":1.433,"cdf":0.662},{"series":"k50_3","ratio":1.5,"cdf":0.689},{"series":"k50_3","ratio":1.54,"cdf":0.722},{"series":"k50_3","ratio":1.66,"cdf":0.736},{"series":"k50_3","ratio":1.713,"cdf":0.762},{"series":"k50_3","ratio":1.872,"cdf":0.775},{"series":"k50_3","ratio":2,"cdf":0.795},{"series":"k50_3","ratio":2.165,"cdf":0.815},{"series":"k50_3","ratio":2.325,"cdf":0.829},{"series":"k50_3","ratio":2.565,"cdf":0.849},{"series":"k50_3","ratio":2.7,"cdf":0.862},{"series":"k50_3","ratio":2.94,"cdf":0.872},{"series":"k50_3","ratio":3.04,"cdf":0.879},{"series":"k50_3","ratio":3.21,"cdf":0.885},{"series":"k50_3","ratio":3.53,"cdf":0.9},{"series":"k50_3","ratio":4.04,"cdf":0.915},{"series":"k50_3","ratio":4.57,"cdf":0.923},{"series":"k50_3","ratio":4.84,"cdf":0.928},{"series":"k50_3","ratio":5,"cdf":0.932},
      {"series":"k50_100","ratio":1,"cdf":0},{"series":"k50_100","ratio":1.013,"cdf":0.071},{"series":"k50_100","ratio":1.047,"cdf":0.104},{"series":"k50_100","ratio":1.087,"cdf":0.164},{"series":"k50_100","ratio":1.14,"cdf":0.211},{"series":"k50_100","ratio":1.22,"cdf":0.237},{"series":"k50_100","ratio":1.326,"cdf":0.257},{"series":"k50_100","ratio":1.5,"cdf":0.277},{"series":"k50_100","ratio":1.66,"cdf":0.287},{"series":"k50_100","ratio":1.9,"cdf":0.304},{"series":"k50_100","ratio":2,"cdf":0.307},{"series":"k50_100","ratio":2.165,"cdf":0.317},{"series":"k50_100","ratio":2.38,"cdf":0.334},{"series":"k50_100","ratio":2.43,"cdf":0.35},{"series":"k50_100","ratio":2.59,"cdf":0.37},{"series":"k50_100","ratio":2.68,"cdf":0.39},{"series":"k50_100","ratio":2.71,"cdf":0.42},{"series":"k50_100","ratio":2.83,"cdf":0.43},{"series":"k50_100","ratio":3,"cdf":0.45},{"series":"k50_100","ratio":3.23,"cdf":0.47},{"series":"k50_100","ratio":3.35,"cdf":0.496},{"series":"k50_100","ratio":3.45,"cdf":0.523},{"series":"k50_100","ratio":3.9,"cdf":0.543},{"series":"k50_100","ratio":4.3,"cdf":0.563},{"series":"k50_100","ratio":4.5,"cdf":0.589},{"series":"k50_100","ratio":4.57,"cdf":0.613},{"series":"k50_100","ratio":4.7,"cdf":0.626},{"series":"k50_100","ratio":5,"cdf":0.652},
      {"series":"k50_jup","ratio":1.85,"cdf":0.005},{"series":"k50_jup","ratio":1.9,"cdf":0.015},{"series":"k50_jup","ratio":2,"cdf":0.031},{"series":"k50_jup","ratio":2.14,"cdf":0.045},{"series":"k50_jup","ratio":2.3,"cdf":0.058},{"series":"k50_jup","ratio":2.38,"cdf":0.078},{"series":"k50_jup","ratio":2.5,"cdf":0.091},{"series":"k50_jup","ratio":2.7,"cdf":0.114},{"series":"k50_jup","ratio":2.72,"cdf":0.138},{"series":"k50_jup","ratio":2.8,"cdf":0.157},{"series":"k50_jup","ratio":2.9,"cdf":0.184},{"series":"k50_jup","ratio":3,"cdf":0.205},{"series":"k50_jup","ratio":3.23,"cdf":0.217},{"series":"k50_jup","ratio":3.37,"cdf":0.234},{"series":"k50_jup","ratio":3.53,"cdf":0.26},{"series":"k50_jup","ratio":3.9,"cdf":0.277},{"series":"k50_jup","ratio":4.24,"cdf":0.314},{"series":"k50_jup","ratio":4.44,"cdf":0.337},{"series":"k50_jup","ratio":4.84,"cdf":0.373},{"series":"k50_jup","ratio":4.88,"cdf":0.39},{"series":"k50_jup","ratio":4.97,"cdf":0.4},{"series":"k50_jup","ratio":5,"cdf":0.401},
      {"series":"k500_3","ratio":1,"cdf":0},{"series":"k500_3","ratio":1.02,"cdf":0.264},{"series":"k500_3","ratio":1.047,"cdf":0.397},{"series":"k500_3","ratio":1.073,"cdf":0.496},{"series":"k500_3","ratio":1.113,"cdf":0.55},{"series":"k500_3","ratio":1.206,"cdf":0.609},{"series":"k500_3","ratio":1.26,"cdf":0.629},{"series":"k500_3","ratio":1.34,"cdf":0.662},{"series":"k500_3","ratio":1.42,"cdf":0.682},{"series":"k500_3","ratio":1.5,"cdf":0.692},{"series":"k500_3","ratio":1.553,"cdf":0.729},{"series":"k500_3","ratio":1.7,"cdf":0.759},{"series":"k500_3","ratio":1.82,"cdf":0.782},{"series":"k500_3","ratio":2,"cdf":0.802},{"series":"k500_3","ratio":2.06,"cdf":0.815},{"series":"k500_3","ratio":2.11,"cdf":0.832},{"series":"k500_3","ratio":2.3,"cdf":0.855},{"series":"k500_3","ratio":2.43,"cdf":0.868},{"series":"k500_3","ratio":2.62,"cdf":0.878},{"series":"k500_3","ratio":2.7,"cdf":0.892},{"series":"k500_3","ratio":2.9,"cdf":0.898},{"series":"k500_3","ratio":3.03,"cdf":0.906},{"series":"k500_3","ratio":3.46,"cdf":0.925},{"series":"k500_3","ratio":3.9,"cdf":0.935},{"series":"k500_3","ratio":4.17,"cdf":0.948},{"series":"k500_3","ratio":4.57,"cdf":0.958},{"series":"k500_3","ratio":5,"cdf":0.963},
      {"series":"k500_100","ratio":1,"cdf":0},{"series":"k500_100","ratio":1.013,"cdf":0.045},{"series":"k500_100","ratio":1.047,"cdf":0.084},{"series":"k500_100","ratio":1.087,"cdf":0.144},{"series":"k500_100","ratio":1.126,"cdf":0.171},{"series":"k500_100","ratio":1.206,"cdf":0.204},{"series":"k500_100","ratio":1.326,"cdf":0.22},{"series":"k500_100","ratio":1.5,"cdf":0.237},{"series":"k500_100","ratio":1.553,"cdf":0.264},{"series":"k500_100","ratio":1.66,"cdf":0.284},{"series":"k500_100","ratio":1.846,"cdf":0.304},{"series":"k500_100","ratio":2,"cdf":0.33},{"series":"k500_100","ratio":2.03,"cdf":0.35},{"series":"k500_100","ratio":2.125,"cdf":0.397},{"series":"k500_100","ratio":2.19,"cdf":0.417},{"series":"k500_100","ratio":2.3,"cdf":0.437},{"series":"k500_100","ratio":2.43,"cdf":0.483},{"series":"k500_100","ratio":2.565,"cdf":0.496},{"series":"k500_100","ratio":2.7,"cdf":0.523},{"series":"k500_100","ratio":2.9,"cdf":0.563},{"series":"k500_100","ratio":3,"cdf":0.57},{"series":"k500_100","ratio":3.1,"cdf":0.589},{"series":"k500_100","ratio":3.37,"cdf":0.616},{"series":"k500_100","ratio":3.57,"cdf":0.639},{"series":"k500_100","ratio":3.77,"cdf":0.666},{"series":"k500_100","ratio":4.04,"cdf":0.702},{"series":"k500_100","ratio":4.17,"cdf":0.716},{"series":"k500_100","ratio":4.28,"cdf":0.742},{"series":"k500_100","ratio":4.57,"cdf":0.762},{"series":"k500_100","ratio":4.74,"cdf":0.772},{"series":"k500_100","ratio":5,"cdf":0.799},
      {"series":"k500_jup","ratio":1.55,"cdf":0.005},{"series":"k500_jup","ratio":1.58,"cdf":0.008},{"series":"k500_jup","ratio":1.766,"cdf":0.018},{"series":"k500_jup","ratio":1.9,"cdf":0.035},{"series":"k500_jup","ratio":1.95,"cdf":0.051},{"series":"k500_jup","ratio":2,"cdf":0.064},{"series":"k500_jup","ratio":2.03,"cdf":0.101},{"series":"k500_jup","ratio":2.07,"cdf":0.131},{"series":"k500_jup","ratio":2.11,"cdf":0.171},{"series":"k500_jup","ratio":2.165,"cdf":0.181},{"series":"k500_jup","ratio":2.245,"cdf":0.184},{"series":"k500_jup","ratio":2.35,"cdf":0.217},{"series":"k500_jup","ratio":2.43,"cdf":0.25},{"series":"k500_jup","ratio":2.54,"cdf":0.274},{"series":"k500_jup","ratio":2.645,"cdf":0.3},{"series":"k500_jup","ratio":2.72,"cdf":0.317},{"series":"k500_jup","ratio":2.86,"cdf":0.35},{"series":"k500_jup","ratio":2.99,"cdf":0.36},{"series":"k500_jup","ratio":3.05,"cdf":0.377},{"series":"k500_jup","ratio":3.167,"cdf":0.43},{"series":"k500_jup","ratio":3.3,"cdf":0.437},{"series":"k500_jup","ratio":3.43,"cdf":0.456},{"series":"k500_jup","ratio":3.63,"cdf":0.496},{"series":"k500_jup","ratio":3.83,"cdf":0.53},{"series":"k500_jup","ratio":4.04,"cdf":0.55},{"series":"k500_jup","ratio":4.17,"cdf":0.576},{"series":"k500_jup","ratio":4.24,"cdf":0.606},{"series":"k500_jup","ratio":4.37,"cdf":0.609},{"series":"k500_jup","ratio":4.7,"cdf":0.629},{"series":"k500_jup","ratio":4.84,"cdf":0.656},{"series":"k500_jup","ratio":5,"cdf":0.682},
      {"series":"k5000_3","ratio":1,"cdf":0},{"series":"k5000_3","ratio":1.013,"cdf":0.23},{"series":"k5000_3","ratio":1.033,"cdf":0.397},{"series":"k5000_3","ratio":1.06,"cdf":0.496},{"series":"k5000_3","ratio":1.1,"cdf":0.569},{"series":"k5000_3","ratio":1.153,"cdf":0.616},{"series":"k5000_3","ratio":1.233,"cdf":0.656},{"series":"k5000_3","ratio":1.326,"cdf":0.672},{"series":"k5000_3","ratio":1.366,"cdf":0.709},{"series":"k5000_3","ratio":1.42,"cdf":0.722},{"series":"k5000_3","ratio":1.5,"cdf":0.732},{"series":"k5000_3","ratio":1.566,"cdf":0.775},{"series":"k5000_3","ratio":1.7,"cdf":0.815},{"series":"k5000_3","ratio":1.806,"cdf":0.839},{"series":"k5000_3","ratio":1.9,"cdf":0.855},{"series":"k5000_3","ratio":2,"cdf":0.862},{"series":"k5000_3","ratio":2.1,"cdf":0.885},{"series":"k5000_3","ratio":2.165,"cdf":0.908},{"series":"k5000_3","ratio":2.245,"cdf":0.925},{"series":"k5000_3","ratio":2.39,"cdf":0.942},{"series":"k5000_3","ratio":2.565,"cdf":0.951},{"series":"k5000_3","ratio":2.7,"cdf":0.961},{"series":"k5000_3","ratio":3,"cdf":0.969},{"series":"k5000_3","ratio":3.167,"cdf":0.98},{"series":"k5000_3","ratio":3.5,"cdf":0.987},{"series":"k5000_3","ratio":4.04,"cdf":0.989},{"series":"k5000_3","ratio":5,"cdf":0.993},
      {"series":"k5000_100","ratio":1,"cdf":0},{"series":"k5000_100","ratio":1.013,"cdf":0.011},{"series":"k5000_100","ratio":1.1,"cdf":0.031},{"series":"k5000_100","ratio":1.18,"cdf":0.058},{"series":"k5000_100","ratio":1.326,"cdf":0.104},{"series":"k5000_100","ratio":1.5,"cdf":0.144},{"series":"k5000_100","ratio":1.633,"cdf":0.171},{"series":"k5000_100","ratio":1.792,"cdf":0.224},{"series":"k5000_100","ratio":1.872,"cdf":0.27},{"series":"k5000_100","ratio":2,"cdf":0.297},{"series":"k5000_100","ratio":2.1,"cdf":0.317},{"series":"k5000_100","ratio":2.165,"cdf":0.37},{"series":"k5000_100","ratio":2.218,"cdf":0.43},{"series":"k5000_100","ratio":2.3,"cdf":0.443},{"series":"k5000_100","ratio":2.47,"cdf":0.496},{"series":"k5000_100","ratio":2.565,"cdf":0.53},{"series":"k5000_100","ratio":2.7,"cdf":0.563},{"series":"k5000_100","ratio":2.83,"cdf":0.589},{"series":"k5000_100","ratio":3,"cdf":0.62},{"series":"k5000_100","ratio":3.1,"cdf":0.636},{"series":"k5000_100","ratio":3.23,"cdf":0.676},{"series":"k5000_100","ratio":3.31,"cdf":0.709},{"series":"k5000_100","ratio":3.5,"cdf":0.729},{"series":"k5000_100","ratio":3.63,"cdf":0.742},{"series":"k5000_100","ratio":4.3,"cdf":0.746},{"series":"k5000_100","ratio":5,"cdf":0.749},
      {"series":"k5000_jup","ratio":1.72,"cdf":0.005},{"series":"k5000_jup","ratio":1.766,"cdf":0.011},{"series":"k5000_jup","ratio":1.83,"cdf":0.041},{"series":"k5000_jup","ratio":1.95,"cdf":0.064},{"series":"k5000_jup","ratio":2,"cdf":0.071},{"series":"k5000_jup","ratio":2.14,"cdf":0.124},{"series":"k5000_jup","ratio":2.15,"cdf":0.164},{"series":"k5000_jup","ratio":2.18,"cdf":0.184},{"series":"k5000_jup","ratio":2.218,"cdf":0.264},{"series":"k5000_jup","ratio":2.3,"cdf":0.277},{"series":"k5000_jup","ratio":2.31,"cdf":0.297},{"series":"k5000_jup","ratio":2.4,"cdf":0.304},{"series":"k5000_jup","ratio":2.47,"cdf":0.35},{"series":"k5000_jup","ratio":2.55,"cdf":0.383},{"series":"k5000_jup","ratio":2.64,"cdf":0.403},{"series":"k5000_jup","ratio":2.71,"cdf":0.423},{"series":"k5000_jup","ratio":2.9,"cdf":0.443},{"series":"k5000_jup","ratio":3,"cdf":0.455},{"series":"k5000_jup","ratio":3.23,"cdf":0.51},{"series":"k5000_jup","ratio":3.29,"cdf":0.53},{"series":"k5000_jup","ratio":3.37,"cdf":0.536},{"series":"k5000_jup","ratio":3.57,"cdf":0.559},{"series":"k5000_jup","ratio":3.58,"cdf":0.569},{"series":"k5000_jup","ratio":4.17,"cdf":0.573},{"series":"k5000_jup","ratio":5,"cdf":0.581}
    ]
  },
  "spacing": 90,
  "bounds": "flush",
  "vconcat": [
    {
      "width": 998, "height": 501,
      "layer": [
        {"data": {"name": "p15"},
         "mark": {"type": "line", "strokeWidth": 3, "strokeCap": "butt"},
         "encoding": {
           "x": {"field": "ratio", "type": "quantitative", "scale": {"domain": [1, 5], "nice": false, "zero": false}, "axis": {"orient": "bottom", "values": [1, 1.5, 2, 2.5, 3, 3.5, 4, 4.5, 5], "format": "~g", "labelFlush": false, "title": "Period ratio"}},
           "y": {"field": "cdf", "type": "quantitative", "scale": {"domain": [0, 1], "nice": false}, "axis": {"orient": "left", "values": [0, 0.2, 0.4, 0.6, 0.8, 1], "format": "~g", "title": "cummulative distribution"}},
           "color": {"field": "series", "type": "nominal", "legend": null, "scale": {"domain": ["k5_3","k5_100","k5_jup","k50_3","k50_100","k50_jup","k500_3","k500_100","k500_jup","k5000_3","k5000_100","k5000_jup"], "range": ["#b480f8","#b480f8","#b480f8","#0000ff","#0000ff","#0000ff","#ff0000","#ff0000","#ff0000","#00f000","#00f000","#00f000"]}},
           "strokeDash": {"field": "series", "type": "nominal", "legend": null, "scale": {"domain": ["k5_3","k5_100","k5_jup","k50_3","k50_100","k50_jup","k500_3","k500_100","k500_jup","k5000_3","k5000_100","k5000_jup"], "range": [[1,0],[7,10],[38,14,6,14,6,14],[1,0],[7,10],[38,14,6,14,6,14],[1,0],[7,10],[38,14,6,14,6,14],[1,0],[7,10],[38,14,6,14,6,14]]}}
         }},
        {"data": {"name": "res"},
         "mark": {"type": "rule", "color": "black", "strokeWidth": 3},
         "encoding": {"x": {"field": "ratio", "type": "quantitative", "axis": {"orient": "top", "values": [1, 1.5, 2, 2.5, 3, 3.5, 4, 4.5, 5], "labels": false, "title": null}}}},
        {"data": {"name": "res"},
         "mark": {"type": "text", "baseline": "alphabetic", "dy": -18, "fontSize": 29},
         "encoding": {
           "x": {"field": "ratio", "type": "quantitative", "axis": null},
           "y": {"datum": 1, "type": "quantitative", "axis": {"orient": "right", "values": [0, 0.2, 0.4, 0.6, 0.8, 1], "labels": false, "title": null}},
           "text": {"field": "label"}
         }},
        {"data": {"values": [{"label": "15 bodies"}]},
         "mark": {"type": "text", "baseline": "middle", "dy": -72, "fontSize": 27},
         "encoding": {
           "x": {"datum": 3, "type": "quantitative", "axis": null},
           "y": {"datum": 1, "type": "quantitative", "axis": null},
           "text": {"field": "label"}
         }}
      ],
      "resolve": {"axis": {"x": "independent", "y": "independent"}}
    },
    {
      "width": 998, "height": 165, "view": {"stroke": null},
      "data": {"name": "leg"},
      "encoding": {
        "x": {"field": "col", "type": "quantitative", "scale": {"domain": [0.43, 3.103], "nice": false, "zero": false}, "axis": null},
        "y": {"field": "row", "type": "quantitative", "scale": {"domain": [0.5, 6.19], "nice": false, "zero": false, "reverse": true}, "axis": null}
      },
      "layer": [
        {"transform": [{"filter": "datum.sub == ''"}], "mark": {"type": "text", "align": "right", "baseline": "middle", "dx": -19, "fontSize": 29}, "encoding": {"text": {"field": "label"}}},
        {"transform": [{"filter": "datum.sub != ''"}], "mark": {"type": "text", "align": "right", "baseline": "middle", "dx": -57, "fontSize": 29}, "encoding": {"text": {"field": "label"}}},
        {"transform": [{"filter": "datum.sub != ''"}], "mark": {"type": "text", "align": "right", "baseline": "middle", "dx": -19, "dy": 9, "fontSize": 22}, "encoding": {"text": {"field": "sub"}}},
        {"transform": [{"filter": "datum.sub == ''"}], "mark": {"type": "rule", "strokeWidth": 3.5, "strokeCap": "butt", "x2Offset": 82},
         "encoding": {
           "x2": {"field": "col"},
           "color": {"field": "series", "type": "nominal", "legend": null, "scale": {"domain": ["k5_3","k5_100","k5_jup","k50_3","k50_100","k50_jup","k500_3","k500_100","k500_jup","k5000_3","k5000_100","k5000_jup"], "range": ["#b480f8","#b480f8","#b480f8","#0000ff","#0000ff","#0000ff","#ff0000","#ff0000","#ff0000","#00f000","#00f000","#00f000"]}},
           "strokeDash": {"field": "series", "type": "nominal", "legend": null, "scale": {"domain": ["k5_3","k5_100","k5_jup","k50_3","k50_100","k50_jup","k500_3","k500_100","k500_jup","k5000_3","k5000_100","k5000_jup"], "range": [[1,0],[7,10],[38,14,6,14,6,14],[1,0],[7,10],[38,14,6,14,6,14],[1,0],[7,10],[38,14,6,14,6,14],[1,0],[7,10],[38,14,6,14,6,14]]}}
         }},
        {"transform": [{"filter": "datum.sub != ''"}], "mark": {"type": "rule", "strokeWidth": 3.5, "strokeCap": "butt", "x2Offset": 82, "strokeDash": [38,14,6,14,6,14], "strokeDashOffset": 72},
         "encoding": {
           "x2": {"field": "col"},
           "color": {"field": "series", "type": "nominal", "legend": null, "scale": {"domain": ["k5_3","k5_100","k5_jup","k50_3","k50_100","k50_jup","k500_3","k500_100","k500_jup","k5000_3","k5000_100","k5000_jup"], "range": ["#b480f8","#b480f8","#b480f8","#0000ff","#0000ff","#0000ff","#ff0000","#ff0000","#ff0000","#00f000","#00f000","#00f000"]}}
         }}
      ]
    },
    {
      "width": 998, "height": 501,
      "layer": [
        {"data": {"name": "p30"},
         "mark": {"type": "line", "strokeWidth": 3, "strokeCap": "butt"},
         "encoding": {
           "x": {"field": "ratio", "type": "quantitative", "scale": {"domain": [1, 5], "nice": false, "zero": false}, "axis": {"orient": "bottom", "values": [1, 1.5, 2, 2.5, 3, 3.5, 4, 4.5, 5], "format": "~g", "labelFlush": false, "title": "Period ratio"}},
           "y": {"field": "cdf", "type": "quantitative", "scale": {"domain": [0, 1], "nice": false}, "axis": {"orient": "left", "values": [0, 0.2, 0.4, 0.6, 0.8, 1], "format": "~g", "title": "cummulative distribution"}},
           "color": {"field": "series", "type": "nominal", "legend": null, "scale": {"domain": ["k5_3","k5_100","k5_jup","k50_3","k50_100","k50_jup","k500_3","k500_100","k500_jup","k5000_3","k5000_100","k5000_jup"], "range": ["#b480f8","#b480f8","#b480f8","#0000ff","#0000ff","#0000ff","#ff0000","#ff0000","#ff0000","#00f000","#00f000","#00f000"]}},
           "strokeDash": {"field": "series", "type": "nominal", "legend": null, "scale": {"domain": ["k5_3","k5_100","k5_jup","k50_3","k50_100","k50_jup","k500_3","k500_100","k500_jup","k5000_3","k5000_100","k5000_jup"], "range": [[1,0],[7,10],[38,14,6,14,6,14],[1,0],[7,10],[38,14,6,14,6,14],[1,0],[7,10],[38,14,6,14,6,14],[1,0],[7,10],[38,14,6,14,6,14]]}}
         }},
        {"data": {"name": "res"},
         "mark": {"type": "rule", "color": "black", "strokeWidth": 3},
         "encoding": {"x": {"field": "ratio", "type": "quantitative", "axis": {"orient": "top", "values": [1, 1.5, 2, 2.5, 3, 3.5, 4, 4.5, 5], "labels": false, "title": null}}}},
        {"data": {"name": "res"},
         "mark": {"type": "text", "baseline": "alphabetic", "dy": -18, "fontSize": 29},
         "encoding": {
           "x": {"field": "ratio", "type": "quantitative", "axis": null},
           "y": {"datum": 1, "type": "quantitative", "axis": {"orient": "right", "values": [0, 0.2, 0.4, 0.6, 0.8, 1], "labels": false, "title": null}},
           "text": {"field": "label"}
         }},
        {"data": {"values": [{"label": "30 bodies"}]},
         "mark": {"type": "text", "baseline": "middle", "dy": -72, "fontSize": 27},
         "encoding": {
           "x": {"datum": 3, "type": "quantitative", "axis": null},
           "y": {"datum": 1, "type": "quantitative", "axis": null},
           "text": {"field": "label"}
         }}
      ],
      "resolve": {"axis": {"x": "independent", "y": "independent"}}
    },
    {
      "width": 998, "height": 165, "view": {"stroke": null},
      "data": {"name": "leg"},
      "encoding": {
        "x": {"field": "col", "type": "quantitative", "scale": {"domain": [0.43, 3.103], "nice": false, "zero": false}, "axis": null},
        "y": {"field": "row", "type": "quantitative", "scale": {"domain": [0.5, 6.19], "nice": false, "zero": false, "reverse": true}, "axis": null}
      },
      "layer": [
        {"transform": [{"filter": "datum.sub == ''"}], "mark": {"type": "text", "align": "right", "baseline": "middle", "dx": -19, "fontSize": 29}, "encoding": {"text": {"field": "label"}}},
        {"transform": [{"filter": "datum.sub != ''"}], "mark": {"type": "text", "align": "right", "baseline": "middle", "dx": -57, "fontSize": 29}, "encoding": {"text": {"field": "label"}}},
        {"transform": [{"filter": "datum.sub != ''"}], "mark": {"type": "text", "align": "right", "baseline": "middle", "dx": -19, "dy": 9, "fontSize": 22}, "encoding": {"text": {"field": "sub"}}},
        {"transform": [{"filter": "datum.sub == ''"}], "mark": {"type": "rule", "strokeWidth": 3.5, "strokeCap": "butt", "x2Offset": 82},
         "encoding": {
           "x2": {"field": "col"},
           "color": {"field": "series", "type": "nominal", "legend": null, "scale": {"domain": ["k5_3","k5_100","k5_jup","k50_3","k50_100","k50_jup","k500_3","k500_100","k500_jup","k5000_3","k5000_100","k5000_jup"], "range": ["#b480f8","#b480f8","#b480f8","#0000ff","#0000ff","#0000ff","#ff0000","#ff0000","#ff0000","#00f000","#00f000","#00f000"]}},
           "strokeDash": {"field": "series", "type": "nominal", "legend": null, "scale": {"domain": ["k5_3","k5_100","k5_jup","k50_3","k50_100","k50_jup","k500_3","k500_100","k500_jup","k5000_3","k5000_100","k5000_jup"], "range": [[1,0],[7,10],[38,14,6,14,6,14],[1,0],[7,10],[38,14,6,14,6,14],[1,0],[7,10],[38,14,6,14,6,14],[1,0],[7,10],[38,14,6,14,6,14]]}}
         }},
        {"transform": [{"filter": "datum.sub != ''"}], "mark": {"type": "rule", "strokeWidth": 3.5, "strokeCap": "butt", "x2Offset": 82, "strokeDash": [38,14,6,14,6,14], "strokeDashOffset": 72},
         "encoding": {
           "x2": {"field": "col"},
           "color": {"field": "series", "type": "nominal", "legend": null, "scale": {"domain": ["k5_3","k5_100","k5_jup","k50_3","k50_100","k50_jup","k500_3","k500_100","k500_jup","k5000_3","k5000_100","k5000_jup"], "range": ["#b480f8","#b480f8","#b480f8","#0000ff","#0000ff","#0000ff","#ff0000","#ff0000","#ff0000","#00f000","#00f000","#00f000"]}}
         }}
      ]
    },
    {
      "width": 998, "height": 501,
      "layer": [
        {"data": {"name": "p60"},
         "mark": {"type": "line", "strokeWidth": 3, "strokeCap": "butt"},
         "encoding": {
           "x": {"field": "ratio", "type": "quantitative", "scale": {"domain": [1, 5], "nice": false, "zero": false}, "axis": {"orient": "bottom", "values": [1, 1.5, 2, 2.5, 3, 3.5, 4, 4.5, 5], "format": "~g", "labelFlush": false, "title": "Period ratio"}},
           "y": {"field": "cdf", "type": "quantitative", "scale": {"domain": [0, 1], "nice": false}, "axis": {"orient": "left", "values": [0, 0.2, 0.4, 0.6, 0.8, 1], "format": "~g", "title": "cummulative distribution"}},
           "color": {"field": "series", "type": "nominal", "legend": null, "scale": {"domain": ["k5_3","k5_100","k5_jup","k50_3","k50_100","k50_jup","k500_3","k500_100","k500_jup","k5000_3","k5000_100","k5000_jup"], "range": ["#b480f8","#b480f8","#b480f8","#0000ff","#0000ff","#0000ff","#ff0000","#ff0000","#ff0000","#00f000","#00f000","#00f000"]}},
           "strokeDash": {"field": "series", "type": "nominal", "legend": null, "scale": {"domain": ["k5_3","k5_100","k5_jup","k50_3","k50_100","k50_jup","k500_3","k500_100","k500_jup","k5000_3","k5000_100","k5000_jup"], "range": [[1,0],[7,10],[38,14,6,14,6,14],[1,0],[7,10],[38,14,6,14,6,14],[1,0],[7,10],[38,14,6,14,6,14],[1,0],[7,10],[38,14,6,14,6,14]]}}
         }},
        {"data": {"name": "res"},
         "mark": {"type": "rule", "color": "black", "strokeWidth": 3},
         "encoding": {"x": {"field": "ratio", "type": "quantitative", "axis": {"orient": "top", "values": [1, 1.5, 2, 2.5, 3, 3.5, 4, 4.5, 5], "labels": false, "title": null}}}},
        {"data": {"name": "res"},
         "mark": {"type": "text", "baseline": "alphabetic", "dy": -18, "fontSize": 29},
         "encoding": {
           "x": {"field": "ratio", "type": "quantitative", "axis": null},
           "y": {"datum": 1, "type": "quantitative", "axis": {"orient": "right", "values": [0, 0.2, 0.4, 0.6, 0.8, 1], "labels": false, "title": null}},
           "text": {"field": "label"}
         }},
        {"data": {"values": [{"label": "60 bodies"}]},
         "mark": {"type": "text", "baseline": "middle", "dy": -72, "fontSize": 27},
         "encoding": {
           "x": {"datum": 3, "type": "quantitative", "axis": null},
           "y": {"datum": 1, "type": "quantitative", "axis": null},
           "text": {"field": "label"}
         }}
      ],
      "resolve": {"axis": {"x": "independent", "y": "independent"}}
    },
    {
      "width": 998, "height": 116, "view": {"stroke": null},
      "data": {"name": "leg"},
      "encoding": {
        "x": {"field": "col", "type": "quantitative", "scale": {"domain": [0.43, 3.103], "nice": false, "zero": false}, "axis": null},
        "y": {"field": "row", "type": "quantitative", "scale": {"domain": [0.5, 4.5], "nice": false, "zero": false, "reverse": true}, "axis": null}
      },
      "layer": [
        {"transform": [{"filter": "datum.sub == ''"}], "mark": {"type": "text", "align": "right", "baseline": "middle", "dx": -19, "fontSize": 29}, "encoding": {"text": {"field": "label"}}},
        {"transform": [{"filter": "datum.sub != ''"}], "mark": {"type": "text", "align": "right", "baseline": "middle", "dx": -57, "fontSize": 29}, "encoding": {"text": {"field": "label"}}},
        {"transform": [{"filter": "datum.sub != ''"}], "mark": {"type": "text", "align": "right", "baseline": "middle", "dx": -19, "dy": 9, "fontSize": 22}, "encoding": {"text": {"field": "sub"}}},
        {"transform": [{"filter": "datum.sub == ''"}], "mark": {"type": "rule", "strokeWidth": 3.5, "strokeCap": "butt", "x2Offset": 82},
         "encoding": {
           "x2": {"field": "col"},
           "color": {"field": "series", "type": "nominal", "legend": null, "scale": {"domain": ["k5_3","k5_100","k5_jup","k50_3","k50_100","k50_jup","k500_3","k500_100","k500_jup","k5000_3","k5000_100","k5000_jup"], "range": ["#b480f8","#b480f8","#b480f8","#0000ff","#0000ff","#0000ff","#ff0000","#ff0000","#ff0000","#00f000","#00f000","#00f000"]}},
           "strokeDash": {"field": "series", "type": "nominal", "legend": null, "scale": {"domain": ["k5_3","k5_100","k5_jup","k50_3","k50_100","k50_jup","k500_3","k500_100","k500_jup","k5000_3","k5000_100","k5000_jup"], "range": [[1,0],[7,10],[38,14,6,14,6,14],[1,0],[7,10],[38,14,6,14,6,14],[1,0],[7,10],[38,14,6,14,6,14],[1,0],[7,10],[38,14,6,14,6,14]]}}
         }},
        {"transform": [{"filter": "datum.sub != ''"}], "mark": {"type": "rule", "strokeWidth": 3.5, "strokeCap": "butt", "x2Offset": 82, "strokeDash": [38,14,6,14,6,14], "strokeDashOffset": 72},
         "encoding": {
           "x2": {"field": "col"},
           "color": {"field": "series", "type": "nominal", "legend": null, "scale": {"domain": ["k5_3","k5_100","k5_jup","k50_3","k50_100","k50_jup","k500_3","k500_100","k500_jup","k5000_3","k5000_100","k5000_jup"], "range": ["#b480f8","#b480f8","#b480f8","#0000ff","#0000ff","#0000ff","#ff0000","#ff0000","#ff0000","#00f000","#00f000","#00f000"]}}
         }}
      ]
    }
  ]
}
